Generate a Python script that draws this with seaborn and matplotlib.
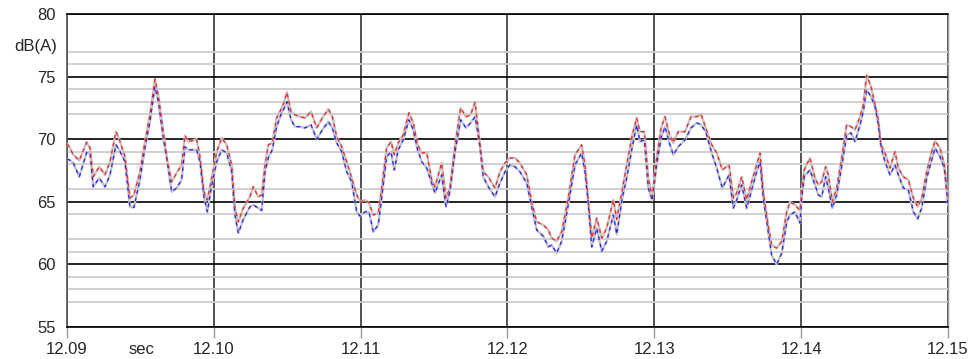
import numpy as np
import pandas as pd
import matplotlib
matplotlib.use("Agg")
import matplotlib.pyplot as plt
import matplotlib.transforms as mtransforms
import seaborn as sns

# time axis (sec) and the two level traces, dB(A)
time = [12.09000, 12.09016, 12.09043, 12.09084, 12.09134, 12.09157, 12.09179, 12.09220, 12.09259,
        12.09293, 12.09334, 12.09356, 12.09395, 12.09429, 12.09456, 12.09497, 12.09531, 12.09565,
        12.09599, 12.09622, 12.09656, 12.09683, 12.09713, 12.09747, 12.09781, 12.09804, 12.09826,
        12.09883, 12.09906, 12.09933, 12.09956, 12.09986, 12.10020, 12.10054, 12.10088, 12.10122,
        12.10144, 12.10167, 12.10201, 12.10246, 12.10269, 12.10303, 12.10326, 12.10349, 12.10371,
        12.10398, 12.10428, 12.10457, 12.10480, 12.10498, 12.10526, 12.10553, 12.10587, 12.10621,
        12.10662, 12.10701, 12.10739, 12.10780, 12.10807, 12.10837, 12.10871, 12.10905, 12.10939,
        12.10973, 12.10996, 12.11030, 12.11057, 12.11086, 12.11120, 12.11143, 12.11177, 12.11207,
        12.11229, 12.11256, 12.11290, 12.11329, 12.11358, 12.11388, 12.11416, 12.11450, 12.11484,
        12.11506, 12.11552, 12.11581, 12.11608, 12.11643, 12.11681, 12.11717, 12.11749, 12.11779,
        12.11808, 12.11835, 12.11869, 12.11915, 12.11949, 12.11983, 12.12017, 12.12051, 12.12085,
        12.12131, 12.12165, 12.12199, 12.12244, 12.12278, 12.12301, 12.12335, 12.12369, 12.12414,
        12.12460, 12.12505, 12.12528, 12.12550, 12.12574, 12.12608, 12.12642, 12.12676, 12.12721,
        12.12744, 12.12782, 12.12812, 12.12850, 12.12880, 12.12902, 12.12932, 12.12959, 12.12986,
        12.13016, 12.13046, 12.13073, 12.13100, 12.13129, 12.13163, 12.13209, 12.13250, 12.13289,
        12.13318, 12.13350, 12.13391, 12.13425, 12.13463, 12.13509, 12.13538, 12.13561, 12.13595,
        12.13629, 12.13663, 12.13697, 12.13720, 12.13742, 12.13772, 12.13799, 12.13833, 12.13868,
        12.13902, 12.13924, 12.13958, 12.13992, 12.14004, 12.14021, 12.14060, 12.14094, 12.14117,
        12.14140, 12.14167, 12.14185, 12.14212, 12.14242, 12.14276, 12.14310, 12.14340, 12.14367,
        12.14401, 12.14423, 12.14446, 12.14476, 12.14503, 12.14525, 12.14544, 12.14571, 12.14605,
        12.14639, 12.14662, 12.14696, 12.14730, 12.14764, 12.14794, 12.14821, 12.14855, 12.14889,
        12.14912, 12.14946, 12.14975, 12.15000]

level_red = [69.6, 69.4, 68.75, 68.3, 69.75, 69.3, 67.0, 67.8, 67.15,
             68.2, 70.6, 70.0, 68.6, 65.3, 65.55, 67.4, 69.8, 71.95,
             74.8, 73.5, 70.6, 68.35, 66.6, 67.3, 67.95, 70.3, 69.8,
             70.0, 68.6, 65.8, 65.15, 66.9, 69.0, 70.1, 69.55, 67.95,
             64.5, 63.4, 64.5, 65.4, 66.2, 65.4, 65.55, 67.95, 69.55,
             69.7, 71.7, 72.35, 73.0, 73.75, 72.2, 71.95, 71.8, 71.7,
             72.2, 70.9, 71.7, 72.4, 71.8, 70.2, 69.4, 68.2, 66.9,
             65.55, 65.0, 65.15, 64.9, 63.95, 64.1, 66.1, 69.3, 69.8,
             68.75, 69.7, 70.35, 72.1, 71.3, 69.55, 68.9, 68.95, 66.75,
             66.2, 68.1, 65.3, 66.1, 69.55, 72.5, 71.8, 71.95, 72.95,
             70.1, 67.4, 67.0, 66.1, 67.4, 68.1, 68.5, 68.5, 68.1,
             67.15, 65.0, 63.4, 63.15, 62.75, 62.1, 61.85, 62.6, 65.3,
             68.75, 69.55, 67.95, 65.15, 62.1, 63.7, 62.1, 62.9, 65.15,
             63.6, 65.95, 67.95, 70.35, 71.7, 70.6, 70.6, 66.9, 65.4,
             68.5, 70.9, 71.8, 70.5, 69.7, 70.6, 70.6, 71.8, 71.8,
             72.0, 70.9, 69.55, 68.9, 67.55, 67.95, 65.3, 65.7, 67.0,
             65.15, 66.6, 67.95, 68.9, 65.8, 63.4, 61.55, 61.3, 61.85,
             64.2, 65.0, 64.75, 64.3, 65.8, 67.55, 68.5, 66.9, 66.35,
             66.6, 67.8, 67.15, 65.0, 66.1, 68.5, 71.15, 71.0, 70.75,
             71.8, 72.75, 75.1, 74.2, 72.75, 71.6, 69.55, 68.9, 67.7,
             69.0, 67.7, 67.0, 66.75, 65.3, 64.6, 65.3, 67.4, 69.0,
             69.85, 69.3, 67.95, 65.3]

level_blue = [68.4, 68.35, 68.1, 67.0, 68.95, 68.9, 66.2, 66.9, 66.2,
              67.15, 69.55, 69.15, 68.2, 64.6, 64.55, 66.75, 69.3, 71.4,
              74.2, 73.0, 70.1, 68.2, 65.8, 66.1, 66.75, 69.4, 69.15,
              69.15, 68.2, 65.4, 64.2, 66.35, 68.2, 69.15, 68.9, 67.4,
              63.95, 62.5, 63.6, 64.6, 64.75, 64.5, 64.3, 67.4, 68.5,
              69.15, 71.0, 71.95, 72.5, 73.0, 71.55, 71.0, 71.0, 70.9,
              71.15, 70.0, 70.75, 71.4, 70.9, 69.7, 69.0, 67.4, 66.6,
              64.2, 63.85, 64.2, 64.2, 62.6, 63.15, 65.3, 68.6, 69.0,
              67.55, 69.15, 69.95, 71.55, 70.75, 69.15, 68.2, 67.7, 66.5,
              65.7, 67.15, 64.6, 65.8, 69.0, 71.55, 70.9, 71.3, 71.8,
              69.8, 67.0, 66.2, 65.4, 66.5, 67.4, 67.95, 67.8, 67.4,
              66.5, 64.6, 62.75, 62.25, 61.4, 61.55, 60.9, 61.85, 64.75,
              67.95, 68.9, 67.4, 64.9, 61.4, 62.9, 61.05, 61.85, 63.95,
              62.4, 65.3, 66.9, 69.4, 71.15, 69.8, 69.95, 66.1, 65.1,
              67.95, 70.1, 71.0, 69.8, 68.75, 69.4, 69.95, 70.9, 71.3,
              71.15, 70.6, 68.9, 67.7, 66.1, 67.15, 64.5, 65.15, 66.35,
              64.5, 65.95, 67.4, 68.2, 65.3, 62.9, 60.75, 60.0, 60.9,
              63.4, 63.95, 64.2, 63.3, 65.3, 67.0, 67.55, 66.35, 65.55,
              65.4, 67.0, 66.1, 64.5, 65.55, 67.8, 70.35, 70.5, 69.8,
              71.15, 72.2, 73.95, 73.4, 72.6, 71.2, 69.4, 68.2, 67.15,
              67.95, 67.15, 66.1, 65.95, 64.2, 63.65, 64.5, 66.9, 68.35,
              69.3, 68.6, 67.7, 64.75]

x_ticks = [12.09, 12.10, 12.11, 12.12, 12.13, 12.14, 12.15]
x_labels = ["12.09", "12.10", "12.11", "12.12", "12.13", "12.14", "12.15"]
y_ticks = [55, 60, 65, 70, 75, 80]
y_minor = [57, 58, 59, 61, 62, 64, 66, 68, 69, 72, 73, 74, 76, 77]

df = pd.DataFrame({"t": time, "red": level_red, "blue": level_blue})

sns.set_style("white")
plt.rcParams["font.family"] = ["Liberation Sans", "DejaVu Sans"]

fig = plt.figure(figsize=(9.72, 3.59), dpi=100)
ax = fig.add_axes([0.0689, 0.0891, 0.9064, 0.8719])

# grey underlay + dashed coloured trace on top
for col in ["blue", "red"]:
    sns.lineplot(data=df, x="t", y=col, ax=ax, color="#c4c4c4", lw=1.7, zorder=3)
sns.lineplot(data=df, x="t", y="blue", ax=ax, color="#2020ff", lw=0.9,
             linestyle=(0, (3, 3)), zorder=4)
sns.lineplot(data=df, x="t", y="red", ax=ax, color="#ff2020", lw=0.9,
             linestyle=(0, (3, 3)), zorder=5)

ax.set_xlim(12.09, 12.15)
ax.set_ylim(55, 80)
ax.set_xticks(x_ticks)
ax.set_xticklabels(x_labels)
ax.set_yticks(y_ticks)
ax.set_yticks(y_minor, minor=True)
ax.set_xlabel("")
ax.set_ylabel("")

ax.grid(which="minor", axis="y", color="#cdcdcd", lw=1.3, zorder=0)
ax.grid(which="major", axis="y", color="black", lw=1.2, zorder=1)
ax.grid(which="major", axis="x", color="#333333", lw=1.2, zorder=1)

for side in ["left", "bottom", "top"]:
    ax.spines[side].set_color("black")
    ax.spines[side].set_linewidth(1.2)
ax.spines["left"].set_color("#555555")
ax.spines["right"].set_color("#999999")
ax.spines["right"].set_linewidth(1.0)

ax.tick_params(axis="y", which="major", length=7, width=1.0, color="black",
               pad=1, labelsize=12)
ax.tick_params(axis="y", which="minor", length=0)
ax.tick_params(axis="x", which="major", length=8, width=1.0, color="#999999",
               pad=3, labelsize=12, bottom=True)

trans = mtransforms.blended_transform_factory(ax.transAxes, ax.transData)
ax.text(-0.011, 77.4, "dB(A)", transform=trans, ha="right", va="center", fontsize=12)
trans2 = mtransforms.blended_transform_factory(ax.transData, ax.transAxes)
ax.text(12.0951, -0.048, "sec", transform=trans2, ha="center", va="top", fontsize=12)

fig.savefig("out.png", dpi=100)
